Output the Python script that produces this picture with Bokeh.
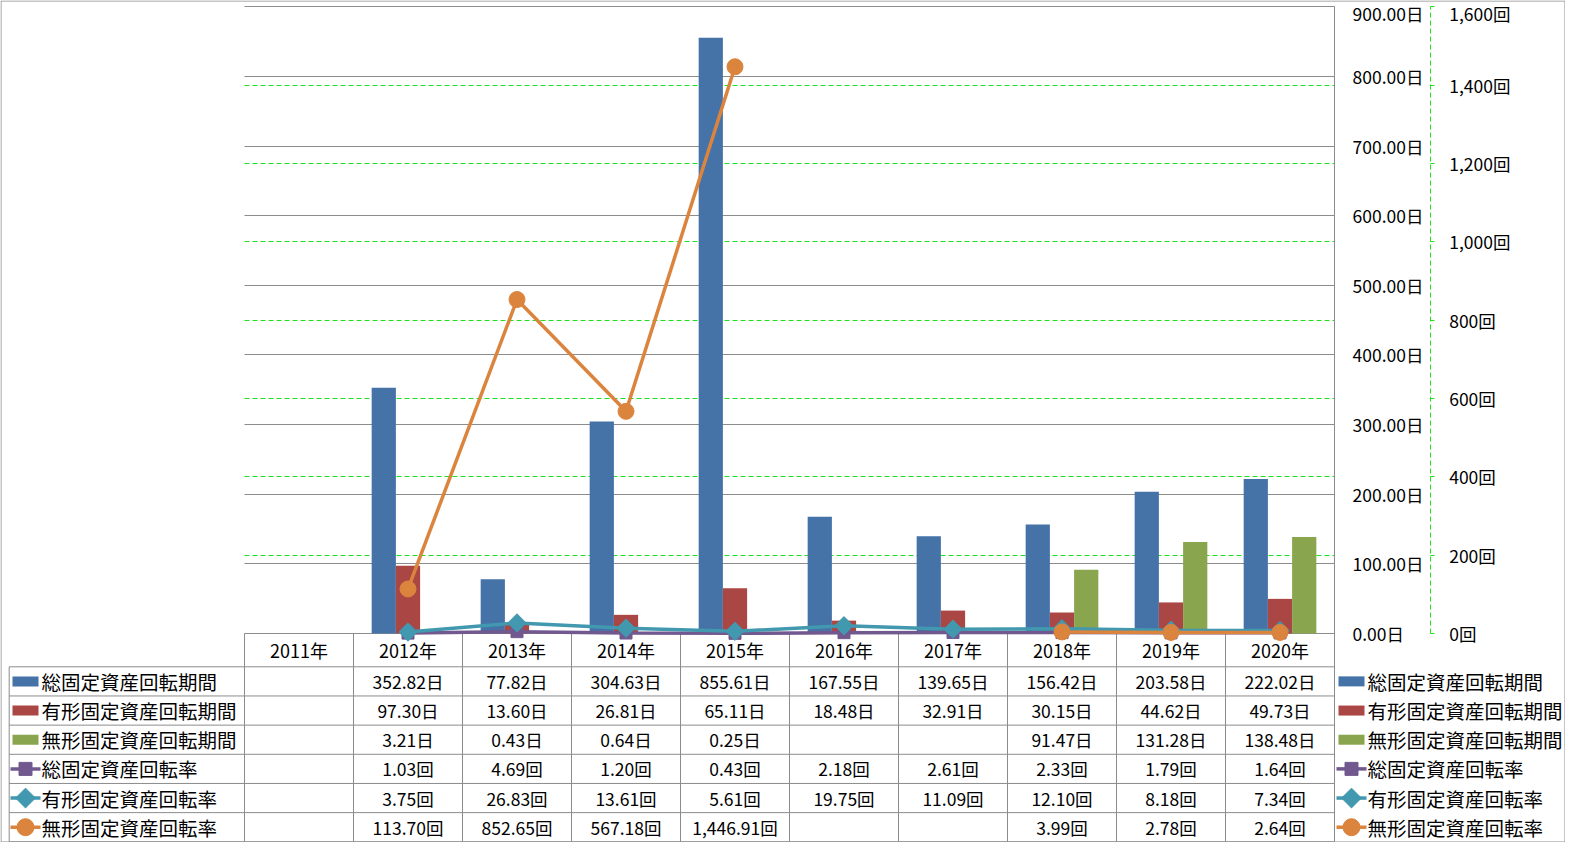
import math
from bokeh.plotting import figure
from bokeh.models import Range1d, LinearAxis, FixedTicker, Grid
from bokeh.embed import file_html
from bokeh.resources import INLINE
from bokeh.core.properties import value

# ---------------- data ----------------
years = ["2011年", "2012年", "2013年", "2014年", "2015年", "2016年", "2017年", "2018年", "2019年", "2020年"]
total_period = [None, 352.82, 77.82, 304.63, 855.61, 167.55, 139.65, 156.42, 203.58, 222.02]
tangible_period = [None, 97.30, 13.60, 26.81, 65.11, 18.48, 32.91, 30.15, 44.62, 49.73]
intangible_period = [None, 3.21, 0.43, 0.64, 0.25, None, None, 91.47, 131.28, 138.48]
total_turnover = [None, 1.03, 4.69, 1.20, 0.43, 2.18, 2.61, 2.33, 1.79, 1.64]
tangible_turnover = [None, 3.75, 26.83, 13.61, 5.61, 19.75, 11.09, 12.10, 8.18, 7.34]
intangible_turnover = [None, 113.70, 852.65, 567.18, 1446.91, None, None, 3.99, 2.78, 2.64]
series_names = ["総固定資産回転期間", "有形固定資産回転期間", "無形固定資産回転期間",
                "総固定資産回転率", "有形固定資産回転率", "無形固定資産回転率"]
primary_ticks = [0, 100, 200, 300, 400, 500, 600, 700, 800, 900]
secondary_ticks = [0, 200, 400, 600, 800, 1000, 1200, 1400, 1600]

# ---------------- styling / geometry (screen px) ----------------
FONT = "Noto Sans CJK JP"
C_BLUE, C_RED, C_GREEN = "#4572A7", "#AA4643", "#89A54E"
C_PURPLE, C_TEAL, C_ORANGE = "#71588F", "#4198AF", "#DB843D"
GREY = "#8c8c8c"
GREEN = "#1ee01e"
W, H = 1565, 842
CAT_PX = 109.0          # width of one category
LEFT = 244.0            # px of first category edge
Y0_PX = 633.0           # px of value 0
YTOP_PX = 6.3           # px of 900 / 1600
HDR_BOT_PX = 666.3      # bottom of the year header row
TBL_BOT_PX = 841.3      # bottom of table
ROW_PX = (TBL_BOT_PX - HDR_BOT_PX) / 6
SEC_AXIS_PX = 1429.7
k1 = (Y0_PX - YTOP_PX) / 900.0
k2 = (Y0_PX - YTOP_PX) / 1600.0
BW = 1 / 4.5
n = len(years)


def px_to_x(px):
    return (px - LEFT) / CAT_PX


p = figure(width=W, height=H, output_backend="svg", toolbar_location=None,
           x_range=Range1d(px_to_x(0), px_to_x(W)),
           y_range=Range1d(-(H - Y0_PX) / k1, Y0_PX / k1),
           min_border_left=0, min_border_right=0, min_border_top=0, min_border_bottom=0,
           x_axis_type=None, y_axis_type=None)
p.extra_y_ranges = {
    "sec": Range1d(-(H - Y0_PX) / k2, Y0_PX / k2),
    "tbl": Range1d(-(H - HDR_BOT_PX) / ROW_PX, HDR_BOT_PX / ROW_PX),
}
p.outline_line_color = None
p.background_fill_color = "white"
p.border_fill_color = "white"

has_cross = "cross_bounds" in Grid.properties()
sec_grid = Grid(dimension=1, ticker=FixedTicker(ticks=secondary_ticks[1:-1]), y_range_name="sec",
                grid_line_color=GREEN, grid_line_dash="5 3", grid_line_width=1)
prim_grid = Grid(dimension=1, ticker=FixedTicker(ticks=primary_ticks),
                 grid_line_color=GREY, grid_line_width=1)
if has_cross:
    sec_grid.cross_bounds = (0, n)
    prim_grid.cross_bounds = (0, n)
    p.add_layout(sec_grid)
    p.add_layout(prim_grid)
else:
    st = secondary_ticks[1:-1]
    p.segment(x0=[0] * len(st), x1=[n] * len(st), y0=st, y1=st, line_color=GREEN,
              line_dash="5 3", y_range_name="sec")
    p.segment(x0=[0] * len(primary_ticks), x1=[n] * len(primary_ticks), y0=primary_ticks,
              y1=primary_ticks, line_color=GREY)

ax1 = LinearAxis(ticker=FixedTicker(ticks=primary_ticks), fixed_location=n,
                 major_label_overrides={t: f"{t:.2f}日" for t in primary_ticks},
                 axis_line_color=GREY, major_tick_out=0, major_tick_in=0,
                 minor_tick_out=0, minor_tick_in=0, major_label_standoff=18,
                 major_label_text_font=FONT, major_label_text_font_size="17.5px",
                 major_label_text_color="#000000",
                 bounds=(-(TBL_BOT_PX - Y0_PX) / k1, 900))
ax2 = LinearAxis(y_range_name="sec", ticker=FixedTicker(ticks=secondary_ticks),
                 fixed_location=px_to_x(SEC_AXIS_PX),
                 major_label_overrides={t: f"{t:,}回" for t in secondary_ticks},
                 axis_line_color=GREEN, axis_line_dash="5 3",
                 major_tick_out=4, major_tick_in=0, major_tick_line_color=GREEN,
                 minor_tick_out=0, minor_tick_in=0, major_label_standoff=15,
                 major_label_text_font=FONT, major_label_text_font_size="17.5px",
                 major_label_text_color="#000000", bounds=(0, 1600))
p.add_layout(ax1, "right")
p.add_layout(ax2, "right")

# ---------------- data table grid ----------------
hdr_top = (HDR_BOT_PX - Y0_PX) / ROW_PX
XL = px_to_x(8.7)
rows = 6
p.segment(x0=[XL] * (rows + 1), y0=[-j for j in range(rows + 1)], x1=[n] * (rows + 1),
          y1=[-j for j in range(rows + 1)], line_color=GREY, line_width=1, y_range_name="tbl")
vx = list(range(n + 1))
p.segment(x0=vx, y0=[hdr_top] * len(vx), x1=vx, y1=[-rows] * len(vx), line_color=GREY,
          line_width=1, y_range_name="tbl")
p.segment(x0=[XL], y0=[0], x1=[XL], y1=[-rows], line_color=GREY, line_width=1, y_range_name="tbl")

# outer chart border
bx0, bx1 = px_to_x(0.5), px_to_x(W - 0.5)
by0, by1 = (HDR_BOT_PX - 0.5) / ROW_PX, -(H - 0.5 - HDR_BOT_PX) / ROW_PX
p.segment(x0=[bx0, bx1, bx0, bx0], y0=[by0, by0, by0, by1], x1=[bx0, bx1, bx1, bx1],
          y1=[by1, by1, by0, by1], line_color=GREY, line_width=1, y_range_name="tbl")

y_hdr = (HDR_BOT_PX - 649.5) / ROW_PX
p.text(x=[i + 0.5 for i in range(n)], y=[y_hdr] * n, text=years, y_range_name="tbl",
       text_font=value(FONT), text_font_size="18px", text_align="center",
       text_baseline="middle", text_color="#000000")

# ---------------- bars ----------------
for vals, off, col in [(total_period, -1, C_BLUE), (tangible_period, 0, C_RED), (intangible_period, 1, C_GREEN)]:
    xs = [i + 0.5 + off * BW for i, v in enumerate(vals) if v is not None]
    tops = [v for v in vals if v is not None]
    p.vbar(x=xs, top=tops, bottom=0, width=BW, fill_color=col, line_color=None)


# ---------------- lines (secondary axis) ----------------
def nanify(vals):
    return [float("nan") if v is None else v for v in vals]


xs_all = [i + 0.5 for i in range(n)]
line_specs = [(total_turnover, C_PURPLE, "square", 12, 0.0),
              (tangible_turnover, C_TEAL, "square", 13, math.pi / 4),
              (intangible_turnover, C_ORANGE, "circle", 16, 0.0)]
for vals, col, mk, sz, ang in line_specs:
    p.line(x=xs_all[1:], y=nanify(vals)[1:], line_color=col, line_width=3.5, y_range_name="sec")
    mx = [xs_all[i] for i, v in enumerate(vals) if v is not None]
    my = [v for v in vals if v is not None]
    p.scatter(x=mx, y=my, marker=mk, size=sz, angle=ang, fill_color=col, line_color=col,
              y_range_name="sec")

# ---------------- table values ----------------
all_series = [(total_period, "日"), (tangible_period, "日"), (intangible_period, "日"),
              (total_turnover, "回"), (tangible_turnover, "回"), (intangible_turnover, "回")]
tx, ty, tt = [], [], []
for j, (vals, unit) in enumerate(all_series):
    for i, v in enumerate(vals):
        if v is not None:
            tx.append(i + 0.5)
            ty.append(-(j + 0.5))
            tt.append(f"{v:,.2f}{unit}")
p.text(x=tx, y=ty, text=tt, y_range_name="tbl", text_font=value(FONT), text_font_size="17.5px",
       text_align="center", text_baseline="middle", text_color="#000000")

# ---------------- row labels with legend keys (left and right) ----------------
key_cols = [C_BLUE, C_RED, C_GREEN, C_PURPLE, C_TEAL, C_ORANGE]
for key_px, text_px in [(25, 41), (1351, 1367)]:
    kx = px_to_x(key_px)
    txx = px_to_x(text_px)
    half = 15 / CAT_PX
    for j in range(3):
        p.rect(x=[kx], y=[-(j + 0.5)], width=26, height=10, width_units="screen",
               height_units="screen", fill_color=key_cols[j], line_color=None, y_range_name="tbl")
    for j, (vals, col, mk, sz, ang) in zip([3, 4, 5], line_specs):
        p.segment(x0=[kx - half], y0=[-(j + 0.5)], x1=[kx + half], y1=[-(j + 0.5)],
                  line_color=col, line_width=3.5, y_range_name="tbl")
        p.scatter(x=[kx], y=[-(j + 0.5)], marker=mk, size=sz + 1, angle=ang,
                  fill_color=col, line_color=col, y_range_name="tbl")
    p.text(x=[txx] * 6, y=[-(j + 0.5) for j in range(6)], text=series_names, y_range_name="tbl",
           text_font=value(FONT), text_font_size="19.5px", text_align="left",
           text_baseline="middle", text_color="#000000")

open("out.html", "w").write(file_html(p, INLINE))
